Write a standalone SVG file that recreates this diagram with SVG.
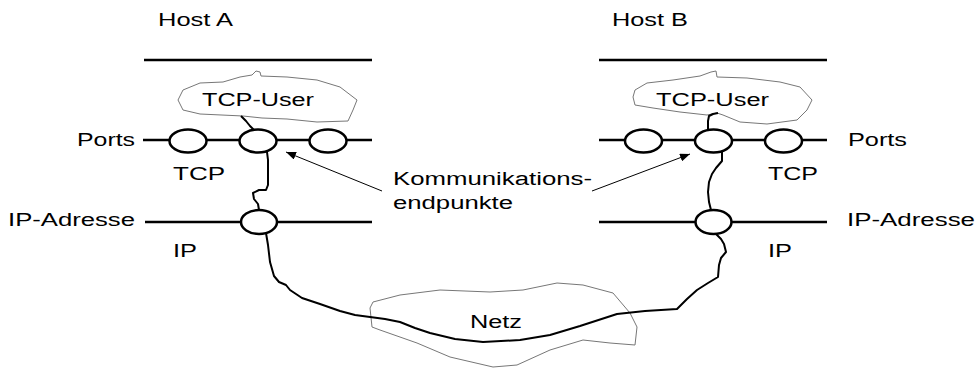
<svg xmlns="http://www.w3.org/2000/svg" width="976" height="369" viewBox="0 0 976 369">
  <style>
    text { font-family: "Liberation Sans", Arial, sans-serif; font-size: 18px; fill: #000; }
    .bar { stroke: #000; stroke-width: 2.5; fill: none; }
    .port { stroke: #000; stroke-width: 2.5; fill: #fff; }
    .cloud { stroke: #777; stroke-width: 1; fill: #fff; }
    .wire { stroke: #000; stroke-width: 2; fill: none; stroke-linejoin: round; }
    .pointer { stroke: #000; stroke-width: 1; fill: none; }
  </style>
  <defs>
    <marker id="head" viewBox="0 0 10 8" refX="10" refY="4" markerWidth="10" markerHeight="8" markerUnits="userSpaceOnUse" orient="auto">
      <path d="M0,0 L10,4 L0,8 Z" fill="#000"/>
    </marker>
  </defs>
  <rect width="976" height="369" fill="#fff"/>

  <!-- Netz cloud (drawn first, the wire runs across it) -->
  <g id="netz">
    <path class="cloud" d="M370,308 L373,302 L400,295 L440,290 L490,292 L523,290 L557,283 L583,285 L613,293 L630,313 L637,327 L635,345 L610,343 L583,340 L550,350 L517,365 L493,367 L450,357 L417,343 L380,330 L372,327 Z"/>
    <text x="470" y="328" textLength="52" lengthAdjust="spacingAndGlyphs">Netz</text>
  </g>

  <!-- Host A -->
  <g id="hostA">
    <text x="158" y="26" textLength="75" lengthAdjust="spacingAndGlyphs">Host A</text>
    <line class="bar" x1="144" y1="60" x2="372" y2="60"/>
    <g id="userA">
      <path class="cloud" d="M178,100 L183,90 L200,83 L223,82 L240,77 L252,75 L256,71 L260,72 L261,76 L287,77 L317,80 L340,87 L357,100 L353,110 L348,121 L317,122 L287,119 L262,118 L243,116 L200,114 L183,110 Z"/>
      <text x="202" y="106" textLength="112" lengthAdjust="spacingAndGlyphs">TCP-User</text>
    </g>
    <g id="portsA">
      <line class="bar" x1="143" y1="140" x2="372" y2="140"/>
      <ellipse class="port" cx="188" cy="141" rx="18.5" ry="11.5"/>
      <ellipse class="port" cx="258" cy="141" rx="18.5" ry="11.5"/>
      <ellipse class="port" cx="328" cy="141" rx="18.5" ry="11.5"/>
      <text x="77" y="146" textLength="58" lengthAdjust="spacingAndGlyphs">Ports</text>
      <text x="173" y="180" textLength="52" lengthAdjust="spacingAndGlyphs">TCP</text>
    </g>
    <g id="ipA">
      <line class="bar" x1="145" y1="222" x2="372" y2="222"/>
      <ellipse class="port" cx="259" cy="222" rx="18" ry="12"/>
      <text x="8" y="226" textLength="127" lengthAdjust="spacingAndGlyphs">IP-Adresse</text>
      <text x="173" y="257" textLength="24" lengthAdjust="spacingAndGlyphs">IP</text>
    </g>
  </g>

  <!-- Host B -->
  <g id="hostB">
    <text x="612" y="26" textLength="76" lengthAdjust="spacingAndGlyphs">Host B</text>
    <line class="bar" x1="599" y1="60" x2="827" y2="60"/>
    <g id="userB">
      <path class="cloud" d="M633,97 L635,90 L647,83 L673,80 L700,76 L711,72 L716,71 L717,77 L747,78 L780,82 L800,87 L812,100 L807,110 L797,120 L767,124 L740,122 L723,115 L717,113 L707,115 L680,112 L653,108 L635,105 Z"/>
      <text x="656" y="106" textLength="113" lengthAdjust="spacingAndGlyphs">TCP-User</text>
    </g>
    <g id="portsB">
      <line class="bar" x1="599" y1="140" x2="827" y2="140"/>
      <ellipse class="port" cx="643.5" cy="141" rx="18.5" ry="11.5"/>
      <ellipse class="port" cx="713.5" cy="141" rx="18.5" ry="11.5"/>
      <ellipse class="port" cx="783.5" cy="141" rx="18.5" ry="11.5"/>
      <text x="848" y="146" textLength="59" lengthAdjust="spacingAndGlyphs">Ports</text>
      <text x="768" y="180" textLength="50" lengthAdjust="spacingAndGlyphs">TCP</text>
    </g>
    <g id="ipB">
      <line class="bar" x1="599" y1="222" x2="827" y2="222"/>
      <ellipse class="port" cx="713.5" cy="222" rx="18" ry="12"/>
      <text x="847" y="226" textLength="128" lengthAdjust="spacingAndGlyphs">IP-Adresse</text>
      <text x="768" y="257" textLength="24" lengthAdjust="spacingAndGlyphs">IP</text>
    </g>
  </g>

  <!-- label for the two pointers -->
  <g id="endpunkte">
    <text x="393" y="185" textLength="199" lengthAdjust="spacingAndGlyphs">Kommunikations-</text>
    <text x="393" y="209" textLength="120" lengthAdjust="spacingAndGlyphs">endpunkte</text>
  </g>

  <!-- connectors -->
  <g id="connectors">
    <!-- Host A: user to port, port to IP -->
    <path class="wire" d="M241,116 L246,121 L250,126 L254,130"/>
    <path class="wire" d="M267,152 L268,160 L268,172 L268,185 L266,190 L259,190 L253,193 L254,199 L258,204 L259,210"/>
    <!-- IP A through the network to IP B -->
    <path class="wire" d="M266,233 L268,245 L270,262 L274,276 L279,282 L286,285 L290,290 L296,294 L302,298 L320,304 L340,311 L355,315 L370,317 L385,319 L400,322 L415,328 L430,333 L455,339 L483,342 L520,340 L550,335 L580,326 L617,314 L645,311 L677,309 L687,299 L697,290 L708,283 L718,277 L719,265 L721,258 L726,252 L724,244 L721,239 L716,234"/>
    <!-- Host B: IP to port, port to user -->
    <path class="wire" d="M711,210 L709,202 L708,192 L709,182 L712,174 L716,168 L722,161 L722,152"/>
    <path class="wire" d="M708,130 L708,121 L709,116 L713,114 L718,113"/>
    <!-- pointers to the communication endpoints -->
    <line class="pointer" x1="382" y1="191" x2="286" y2="152" marker-end="url(#head)"/>
    <line class="pointer" x1="592" y1="191" x2="690" y2="154" marker-end="url(#head)"/>
  </g>
</svg>
